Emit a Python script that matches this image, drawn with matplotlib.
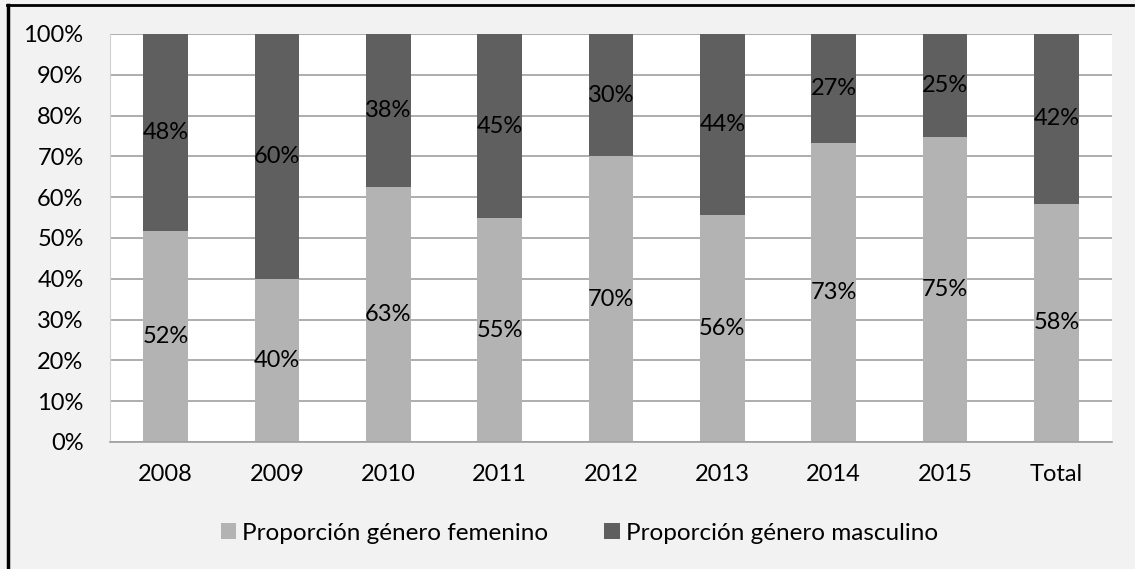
import matplotlib.pyplot as plt
from matplotlib.lines import Line2D
from matplotlib.ticker import PercentFormatter
import numpy as np

plt.rcParams['font.family'] = ['Lato', 'DejaVu Sans']

# ── Data ─────────────────────────────────────────────────────────────────────
categories = ['2008', '2009', '2010', '2011', '2012', '2013', '2014', '2015', 'Total']
femenino   = [51.6, 39.9, 62.5, 54.8, 70.0, 55.6, 73.2, 74.8, 58.4]
masculino  = [100 - v for v in femenino]
# labels as printed in the chart (rounded independently)
fem_labels  = [52, 40, 63, 55, 70, 56, 73, 75, 58]
masc_labels = [48, 60, 38, 45, 30, 44, 27, 25, 42]
series_names = ['Proporción género femenino', 'Proporción género masculino']

COL_F = '#b3b3b3'
COL_M = '#5f5f5f'
BG    = '#f2f2f2'
FS    = 17

fig = plt.figure(figsize=(11.35, 5.69), dpi=100)
fig.patch.set_facecolor(BG)
ax = fig.add_axes([110 / 1135, 1 - 442 / 569, (1112 - 110) / 1135, (442 - 34) / 569])
ax.set_facecolor('white')

x = np.arange(len(categories))
w = 0.4
bf = ax.bar(x, femenino, w, color=COL_F, label=series_names[0], zorder=2)
bm = ax.bar(x, masculino, w, bottom=femenino, color=COL_M, label=series_names[1], zorder=2)

# value labels centred in each segment
for i in range(len(categories)):
    ax.text(x[i], femenino[i] / 2, f'{fem_labels[i]}%', ha='center', va='center',
            fontsize=FS, color='black', zorder=3)
    ax.text(x[i], femenino[i] + masculino[i] / 2, f'{masc_labels[i]}%', ha='center',
            va='center', fontsize=FS, color='black', zorder=3)

ax.set_xlim(-0.5, len(categories) - 0.5)
ax.set_ylim(0, 100)
ax.set_yticks(np.arange(0, 101, 10))
ax.yaxis.set_major_formatter(PercentFormatter(decimals=0))
ax.set_xticks(x)
ax.set_xticklabels(categories)
ax.tick_params(axis='both', length=0, labelsize=FS, colors='black')
ax.tick_params(axis='x', pad=16)
ax.tick_params(axis='y', pad=19)
ax.grid(axis='y', color='#a0a0a0', linewidth=1.2, zorder=1)
for s in ['top', 'right']:
    ax.spines[s].set_visible(False)
ax.spines['left'].set_color('#d0d0d0')
ax.spines['bottom'].set_color('#a0a0a0')
ax.spines['bottom'].set_linewidth(1.2)

fig.legend(handles=[bf, bm], labels=series_names, loc='center',
           bbox_to_anchor=(579.5 / 1135, 1 - 533 / 569), ncol=2, frameon=False,
           fontsize=17.5, handlelength=0.62, handleheight=0.62,
           handletextpad=0.25, columnspacing=2.3, borderpad=0, borderaxespad=0)

# outer frame (left and top edges)
fig.add_artist(Line2D([8 / 1135, 8 / 1135], [0, 1 - 5 / 569], transform=fig.transFigure,
                      color='black', linewidth=2.5))
fig.add_artist(Line2D([7 / 1135, 1133 / 1135], [1 - 5 / 569, 1 - 5 / 569],
                      transform=fig.transFigure, color='black', linewidth=2))

fig.savefig('out.png', dpi=100, facecolor=BG)
